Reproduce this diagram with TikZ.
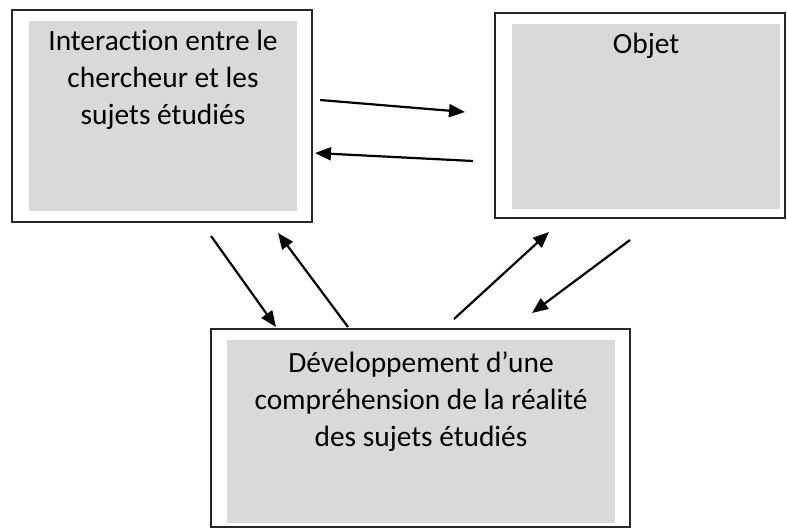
\documentclass[tikz,border=0pt]{standalone}
\usepackage{fontspec}
\setmainfont{Carlito}[Ligatures=NoCommon]
\usepackage{tikz}
\usetikzlibrary{arrows.meta}
\definecolor{boxgray}{HTML}{D9D9D9}

\begin{document}
\begin{tikzpicture}[x=1pt,y=-1pt,
    cadre/.style={draw=black!85,line width=1.2pt,fill=white},
    fond/.style={fill=boxgray},
    texte/.style={anchor=north,align=center,inner sep=0pt,font=\fontsize{29.4}{37}\selectfont},
    fleche/.style={line width=2.2pt,-{Triangle[length=16pt,width=13pt]}}]
      \useasboundingbox (0,0) rectangle (787,528);
      % cadres
      \draw[cadre] (12,10) rectangle (312,222);
      \fill[fond] (29,21) rectangle (297,211);
      \node[texte] (inter) at (163,30) {Interaction entre le\\chercheur et les\\sujets étudiés};
      
      \draw[cadre] (495,13) rectangle (785,218);
      \fill[fond] (512,24) rectangle (780,209);
      \node[texte] (objet) at (646,33) {Objet};
      
      \draw[cadre] (211,329) rectangle (630,527);
      \fill[fond] (227,340) rectangle (615,523);
      \node[texte] (dev) at (421,352) {Développement d’une\\compréhension de la réalité\\des sujets étudiés};
      
      % fleches
      \coordinate (a1) at (320,100); \coordinate (a2) at (465,112);
      \coordinate (b1) at (473,161); \coordinate (b2) at (315,153);
      \coordinate (c1) at (211,236); \coordinate (c2) at (276,327);
      \coordinate (d1) at (348,327); \coordinate (d2) at (278,233);
      \coordinate (e1) at (454,319); \coordinate (e2) at (549,232);
      \coordinate (f1) at (630,240); \coordinate (f2) at (532,313);
      \draw[fleche] (a1) -- (a2);
      \draw[fleche] (b1) -- (b2);
      \draw[fleche] (c1) -- (c2);
      \draw[fleche] (d1) -- (d2);
      \draw[fleche] (e1) -- (e2);
      \draw[fleche] (f1) -- (f2);
\end{tikzpicture}
\end{document}
